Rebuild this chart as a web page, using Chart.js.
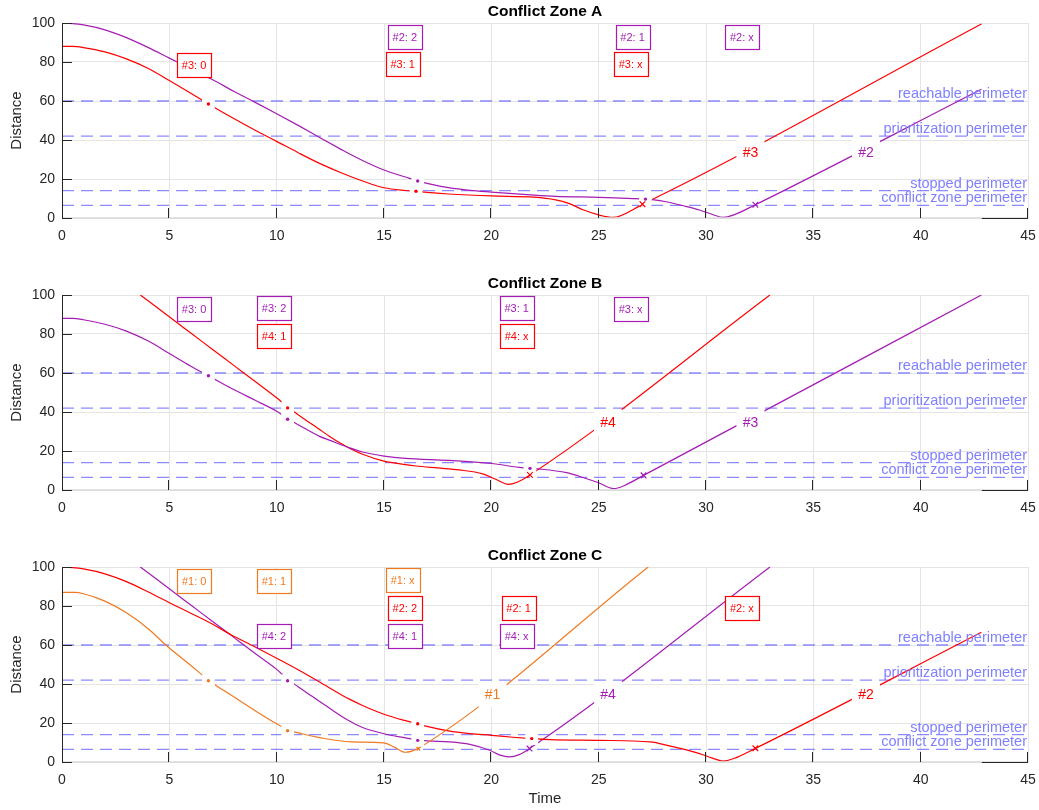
<!DOCTYPE html>
<html>
<head>
<meta charset="utf-8">
<script src="https://cdn.jsdelivr.net/npm/chart.js@4.4.1/dist/chart.umd.min.js"></script>
<style>
  html, body { margin: 0; padding: 0; background: #fff; }
  #wrap { position: relative; width: 1039px; height: 810px; }
  canvas { position: absolute; left: 0; }
</style>
</head>
<body>
<div id="wrap">
  <canvas id="zoneA" width="1039" height="272" style="top:0px"></canvas>
  <canvas id="zoneB" width="1039" height="272" style="top:272px"></canvas>
  <canvas id="zoneC" width="1039" height="266" style="top:544px"></canvas>
</div>
<script>
// Colours
const colors = { red: "#ff0000", purple: "#a41cb4", orange: "#f07a20" };
const perimeterLine = "rgba(100, 100, 255, 0.75)";
const perimeterText = "#7f7fff";
const axisDark = "#262626";
const FONT = '"Liberation Sans", Arial, Helvetica, sans-serif';

// Perimeters (shared by all zones)
const perimeterNames = ["reachable perimeter", "prioritization perimeter", "stopped perimeter", "conflict zone perimeter"];
const perimeterValues = [60, 42, 14, 6.5];

// ---------- Conflict Zone A ----------
const zoneA_v2 = [[0,100],[0.5,99.7],[1,99],[2,96.5],[3,92.5],[4,87.5],[5,82],[6,76.5],[7,71],[8,65],[9,59.3],[10,53.5],[11,47.5],[12,41.3],[13,35.2],[13.4,32.8],[14,29.5],[15,24.6],[16,21],[16.57,19],[17,17.8],[18,15.6],[19,14.2],[20,13.3],[21,12.5],[22,11.7],[23,11.1],[25,10.6],[26,10.2],[27.15,9.7],[27.5,9.4],[28.2,8.2],[28.94,6.3],[29.7,4.1],[30.3,1.8],[30.8,0.3],[31.3,1.6],[32.3,6.8],[42.83,66]];
const zoneA_v3 = [[0,88],[0.5,88],[1,87.4],[2,85.2],[3,81.6],[4,76.8],[5,70.5],[6,64],[6.82,58.5],[7,57.3],[8,51],[9,45],[10,39.3],[11,33.5],[12,28],[13,23.2],[14,19],[15,15.5],[16,14.1],[16.49,13.7],[17,13.1],[18,12.3],[20,11.3],[22,10.7],[23,9.3],[23.6,7.5],[24.3,4.1],[25,1.6],[25.65,0.3],[27.04,7],[42.83,99.5]];
const zoneA_dots = [[6.82,58.5,"red"],[16.49,13.7,"red"],[16.57,19,"purple"],[27.18,9.7,"purple"]];
const zoneA_crosses = [[27.04,7.1,"red"],[32.3,6.8,"purple"]];
const zoneA_boxes = [["#3: 0",6.15,78.7,"red"],["#2: 2",15.97,93,"purple"],["#3: 1",15.87,78.8,"red"],["#2: 1",26.58,93,"purple"],["#3: x",26.49,78.8,"red"],["#2: x",31.67,93,"purple"]];
const zoneA_tags = [["#3",32.07,34,"red"],["#2",37.45,34,"purple"]];

// ---------- Conflict Zone B ----------
const zoneB_v3 = [[0,88],[0.5,88],[1,87.3],[2,85],[3,81.5],[4,76.5],[5,70],[6,63.5],[6.82,58.6],[7,57.5],[8,51.5],[9,46],[10,40.4],[10.51,36.6],[11,33.5],[12,27.5],[12.45,25.6],[13.4,21.6],[14,19.5],[15,17.4],[16,16.2],[18,15.2],[20,13.6],[21.3,11.6],[21.8,11.1],[22.2,10.8],[23.5,8.9],[24.3,6.3],[25,3.7],[25.7,0.7],[26.2,2.3],[27.09,7.5],[42.83,100]];
const zoneB_v4 = [[3.65,100],[5,88.8],[6,80.5],[7,72.2],[8,63.9],[9,55.6],[10,47.3],[10.51,42.5],[11,38.6],[11.5,34.8],[12,31],[12.45,27.6],[13,23.8],[13.46,21],[14,18.3],[15,14.8],[16,13],[16.5,12.3],[17.5,11.3],[18.5,10.3],[19.6,8.3],[20.2,5.5],[20.79,2.9],[21.2,4],[21.8,7.7],[32.98,100]];
const zoneB_dots = [[6.82,58.6,"purple"],[10.51,36.3,"purple"],[10.51,42.1,"red"],[21.8,11.1,"purple"]];
const zoneB_crosses = [[21.8,7.7,"red"],[27.09,7.5,"purple"]];
const zoneB_boxes = [["#3: 0",6.15,93,"purple"],["#3: 2",9.88,93.2,"purple"],["#4: 1",9.88,79,"red"],["#3: 1",21.18,93.2,"purple"],["#4: x",21.18,79,"red"],["#3: x",26.49,93,"purple"]];
const zoneB_tags = [["#4",25.44,34.7,"red"],["#3",32.07,34.9,"purple"]];

// ---------- Conflict Zone C ----------
const zoneC_v1 = [[0,87],[0.6,87],[1,86.3],[2,82.5],[3,76.5],[4,68.5],[4.84,60],[5,58.5],[6,49.5],[6.82,42],[7,40.5],[8,33.4],[9,26.3],[10,19.6],[10.51,16.6],[11.13,14.6],[12,12.5],[13.46,10.3],[14.97,9.8],[15.5,7.5],[15.98,5],[16.3,5.6],[16.6,7],[27.31,100]];
const zoneC_v2 = [[0,100],[0.5,99.7],[1,99],[2,96.5],[3,92.5],[4,87.3],[5,81.7],[6,76.3],[7,70.8],[7.87,65.3],[9,59],[10,53.2],[11,47.3],[12,41],[13,34.5],[13.41,32.1],[14,29],[15,24.5],[16,21.2],[16.57,19.6],[17,18.3],[18,16],[19,14.6],[20,13.7],[21,12.7],[21.88,12],[22.73,11.5],[25,11.1],[27.4,10.3],[28.3,8.3],[29,6.5],[29.7,4.3],[30.3,2],[30.8,0.5],[31.3,1.8],[32.3,7],[42.83,66.5]];
const zoneC_v4 = [[3.65,100],[5,88.8],[6,80.5],[7,72.2],[8,63.9],[9,55.6],[10,47.5],[10.51,42.5],[11,38.6],[11.5,34.8],[12,31],[12.5,27.3],[13,23.6],[13.46,20.6],[14,17.7],[15,14.5],[16,12.4],[16.57,11.3],[17,10.8],[18.07,10.3],[19,9],[19.92,6],[20.4,3.5],[20.85,2.6],[21.3,3.8],[21.78,6.9],[32.98,100]];
const zoneC_dots = [[6.82,41.7,"orange"],[10.51,16,"orange"],[10.51,41.7,"purple"],[16.57,19.6,"red"],[16.57,11.1,"purple"],[21.88,12,"red"]];
const zoneC_crosses = [[16.6,6.8,"orange"],[21.78,6.9,"purple"],[32.3,7,"red"]];
const zoneC_boxes = [["#1: 0",6.16,92.6,"orange"],["#1: 1",9.87,92.6,"orange"],["#4: 2",9.87,64.7,"purple"],["#1: x",15.87,93.1,"orange"],["#2: 2",15.97,78.9,"red"],["#4: 1",15.97,64.7,"purple"],["#2: 1",21.27,78.9,"red"],["#4: x",21.18,64.7,"purple"],["#2: x",31.67,78.9,"red"]];
const zoneC_tags = [["#1",20.06,34.8,"orange"],["#4",25.44,34.8,"purple"],["#2",37.45,34.8,"red"]];

// Axis
const timeMin = 0, timeMax = 45, timeStep = 5;
const distMin = 0, distMax = 100, distStep = 20;
const darkAxisFrom = 42.85;

// Plugin: texts, boxes, axis lines and inward ticks
const zonePlugin = {
  id: "zone",
  afterDatasetsDraw(chart) {
    const o = chart.options.plugins.zone;
    const { ctx, chartArea: a } = chart;
    const xs = chart.scales.x, ys = chart.scales.y;
    ctx.save();
    // perimeter names
    ctx.font = "14.5px " + FONT;
    ctx.fillStyle = perimeterText;
    ctx.textAlign = "right";
    ctx.textBaseline = "alphabetic";
    perimeterNames.forEach((n, i) => {
      ctx.fillText(n, a.right - 1, ys.getPixelForValue(perimeterValues[i]) - 3);
    });
    // curve tags
    ctx.font = "14px " + FONT;
    ctx.textAlign = "center";
    ctx.textBaseline = "middle";
    o.tags.forEach(([t, x, y, c]) => {
      const px = xs.getPixelForValue(x), py = ys.getPixelForValue(y);
      ctx.fillStyle = "#fff";
      ctx.fillRect(px - 14, py - 13, 28, 26);
      ctx.fillStyle = colors[c];
      ctx.fillText(t, px, py + 1);
    });
    // event boxes
    ctx.font = "11px " + FONT;
    o.boxes.forEach(([t, x, y, c]) => {
      const px = xs.getPixelForValue(x), py = ys.getPixelForValue(y);
      const w = Math.round(ctx.measureText(t).width + 10), h = 24;
      const l = Math.round(px - w / 2) + 0.5, tp = Math.round(py - h / 2) + 0.5;
      ctx.fillStyle = "#fff";
      ctx.fillRect(l, tp, w, h);
      ctx.strokeStyle = colors[c];
      ctx.lineWidth = 1.2;
      ctx.strokeRect(l, tp, w, h);
      ctx.fillStyle = colors[c];
      ctx.fillText(t, px, py + 1);
    });
    ctx.restore();
  },
  afterDraw(chart) {
    const o = chart.options.plugins.zone;
    const { ctx, chartArea: a } = chart;
    const xs = chart.scales.x, ys = chart.scales.y;
    ctx.save();
    // bottom axis (light), with dark tail
    ctx.strokeStyle = "#d8d8d8";
    ctx.lineWidth = 1.5;
    ctx.beginPath(); ctx.moveTo(a.left, a.bottom); ctx.lineTo(a.right, a.bottom); ctx.stroke();
    ctx.strokeStyle = axisDark;
    ctx.lineWidth = 1;
    ctx.beginPath(); ctx.moveTo(xs.getPixelForValue(darkAxisFrom), a.bottom + 0.5); ctx.lineTo(a.right, a.bottom + 0.5); ctx.stroke();
    // left axis
    ctx.beginPath(); ctx.moveTo(a.left + 0.5, a.top); ctx.lineTo(a.left + 0.5, a.bottom + 1); ctx.stroke();
    // inward ticks
    for (let v = distMin; v <= distMax; v += distStep) {
      const py = Math.round(ys.getPixelForValue(v)) + 0.5;
      ctx.beginPath(); ctx.moveTo(a.left, py); ctx.lineTo(a.left + 10, py); ctx.stroke();
    }
    for (let v = timeMin + timeStep; v <= timeMax; v += timeStep) {
      const px = Math.round(xs.getPixelForValue(v)) - 0.5;
      ctx.beginPath(); ctx.moveTo(px, a.bottom); ctx.lineTo(px, a.bottom - 10); ctx.stroke();
    }
    // title
    ctx.fillStyle = "#000";
    ctx.font = "bold 15.5px " + FONT;
    ctx.textAlign = "center";
    ctx.textBaseline = "middle";
    ctx.fillText(o.title, (a.left + a.right) / 2, a.top - 11);
    ctx.restore();
  }
};

function toPts(arr) {
  return arr.map(([x, y]) => ({ x, y }));
}

function curve(arr, c) {
  return {
    data: toPts(arr), showLine: true, borderColor: colors[c], borderWidth: 1.2,
    pointRadius: 0, cubicInterpolationMode: "monotone", order: 30
  };
}

function makeZone(canvasId, title, curves, dots, crosses, boxes, tags, showTime) {
  const canvas = document.getElementById(canvasId);
  const h = canvas.height;
  const datasets = [];
  perimeterValues.forEach(v => {
    datasets.push({
      data: [{ x: timeMin, y: v }, { x: timeMax, y: v }], showLine: true,
      borderColor: perimeterLine, borderWidth: 1.3, borderDash: [12, 7],
      pointRadius: 0, order: 40
    });
  });
  curves.forEach(([arr, c]) => datasets.push(curve(arr, c)));
  // white patches behind the event dots
  datasets.push({
    data: toPts(dots), showLine: false, pointStyle: "rect", pointRadius: 9,
    pointBackgroundColor: "#fff", pointBorderWidth: 0, order: 20
  });
  datasets.push({
    data: toPts(dots), showLine: false, pointStyle: "circle", pointRadius: 1.7,
    pointBackgroundColor: dots.map(d => colors[d[2]]), pointBorderWidth: 0, order: 10
  });
  datasets.push({
    data: toPts(crosses), showLine: false, pointStyle: "crossRot",
    pointRadius: crosses.map(d => d[2] === "orange" ? 2.5 : 4),
    pointBorderColor: crosses.map(d => colors[d[2]]), pointBorderWidth: 1.2, order: 10
  });

  return new Chart(canvas, {
    type: "scatter",
    data: { datasets },
    plugins: [zonePlugin],
    options: {
      responsive: false,
      animation: false,
      events: [],
      layout: { padding: { top: 23, right: 11, left: 0, bottom: 0 } },
      plugins: {
        legend: { display: false },
        tooltip: { enabled: false },
        zone: { title, boxes, tags }
      },
      scales: {
        x: {
          type: "linear", min: timeMin, max: timeMax,
          ticks: { stepSize: timeStep, color: axisDark, padding: 10, font: { family: FONT, size: 14 } },
          grid: { color: "#e4e4e4", drawTicks: false },
          border: { display: false },
          title: { display: showTime, text: "Time", color: axisDark, padding: { bottom: 2 }, font: { family: FONT, size: 15 } },
          afterFit: s => { s.height = h - 218; s.paddingLeft = 0; s.paddingRight = 0; }
        },
        y: {
          type: "linear", min: distMin, max: distMax,
          ticks: { stepSize: distStep, color: axisDark, padding: 7, font: { family: FONT, size: 14 } },
          grid: { color: "#e4e4e4", drawTicks: false },
          border: { display: false },
          title: { display: true, text: "Distance", color: axisDark, padding: { top: 8 }, font: { family: FONT, size: 15 } },
          afterFit: s => { s.width = 62; }
        }
      }
    }
  });
}

makeZone("zoneA", "Conflict Zone A", [[zoneA_v2, "purple"], [zoneA_v3, "red"]], zoneA_dots, zoneA_crosses, zoneA_boxes, zoneA_tags, false);
makeZone("zoneB", "Conflict Zone B", [[zoneB_v3, "purple"], [zoneB_v4, "red"]], zoneB_dots, zoneB_crosses, zoneB_boxes, zoneB_tags, false);
makeZone("zoneC", "Conflict Zone C", [[zoneC_v1, "orange"], [zoneC_v2, "red"], [zoneC_v4, "purple"]], zoneC_dots, zoneC_crosses, zoneC_boxes, zoneC_tags, true);
</script>
</body>
</html>
